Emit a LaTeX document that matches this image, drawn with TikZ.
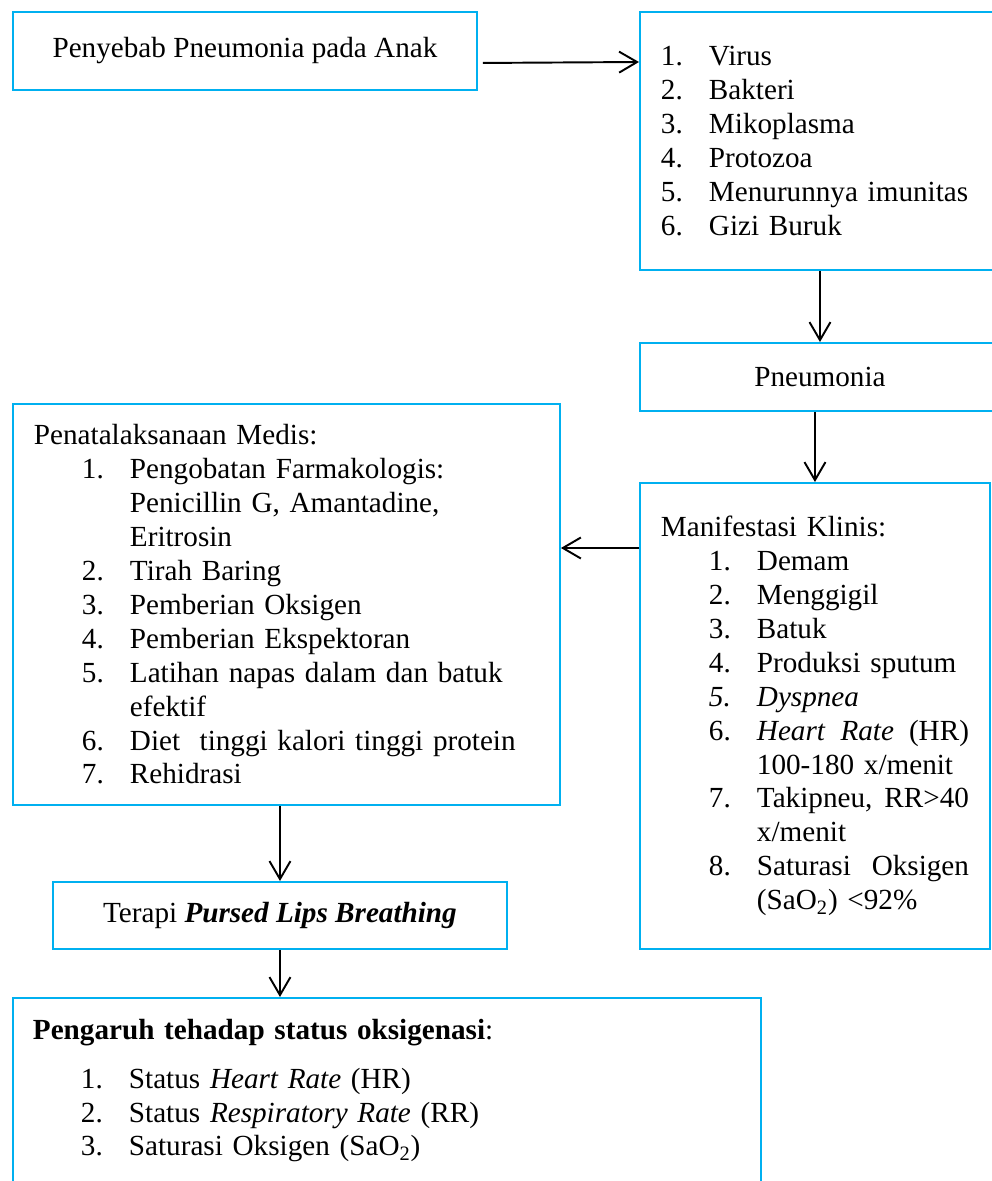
\documentclass[tikz,border=0pt]{standalone}
\usepackage{fontspec}
\setmainfont{Liberation Serif}
\usetikzlibrary{arrows.meta}
\definecolor{biru}{HTML}{00B0F0}
\newcommand{\nomor}[1]{\makebox[0.96cm][l]{#1}}
\newcommand{\tabs}{\hspace*{0.96cm}}

\begin{document}
\begin{tikzpicture}[>={Straight Barb[length=0.36cm,width=0.42cm]}, line width=1.1pt,
  every node/.style={font=\fontsize{16.6}{19.3}\selectfont},
  kotak/.style={draw=biru, rectangle, anchor=north west, inner xsep=0.42cm},
  daftar/.style={kotak, align=left}]
\useasboundingbox (0,0) rectangle (19.84,-23.62);
\clip (0,0) rectangle (19.84,-23.62);
\node[kotak, minimum width=9.28cm, minimum height=1.56cm] (penyebab) at (0.24,-0.22) {Penyebab Pneumonia pada Anak};
\node[daftar, text width=6.36cm, minimum height=5.16cm] (jenis) at (12.78,-0.22) {%
\nomor{1.}Virus\\
\nomor{2.}Bakteri\\
\nomor{3.}Mikoplasma\\
\nomor{4.}Protozoa\\
\nomor{5.}Menurunnya imunitas\\
\nomor{6.}Gizi Buruk};
\node[kotak, minimum width=7.2cm, minimum height=1.36cm] (pneumonia) at (12.78,-6.84) {Pneumonia};
\node[daftar, text width=6.16cm, minimum height=9.32cm] (manifestasi) at (12.78,-9.64) {%
Manifestasi Klinis:\\
\tabs\nomor{1.}Demam\\
\tabs\nomor{2.}Menggigil\\
\tabs\nomor{3.}Batuk\\
\tabs\nomor{4.}Produksi sputum\\
\tabs\nomor{\textit{5.}}\textit{Dyspnea}\\
\tabs\nomor{6.}\textit{Heart}\hfill\textit{Rate}\hfill(HR)\\
\tabs\tabs 100-180 x/menit\\
\tabs\nomor{7.}Takipneu,\hfill RR>40\\
\tabs\tabs x/menit\\
\tabs\nomor{8.}Saturasi\hfill Oksigen\\
\tabs\tabs (SaO\textsubscript{2}) <92\%};
\node[daftar, text width=10.1cm, minimum height=8.02cm] (medis) at (0.24,-8.06) {%
Penatalaksanaan Medis:\\
\tabs\nomor{1.}Pengobatan Farmakologis:\\
\tabs\tabs Penicillin G, Amantadine,\\
\tabs\tabs Eritrosin\\
\tabs\nomor{2.}Tirah Baring\\
\tabs\nomor{3.}Pemberian Oksigen\\
\tabs\nomor{4.}Pemberian Ekspektoran\\
\tabs\nomor{5.}Latihan napas dalam dan batuk\\
\tabs\tabs efektif\\
\tabs\nomor{6.}Diet\ \ tinggi kalori tinggi protein\\
\tabs\nomor{7.}Rehidrasi};
\node[kotak, minimum width=9.08cm, minimum height=1.34cm] (terapi) at (1.04,-17.62) {Terapi \textbf{\textit{Pursed Lips Breathing}}};
\node[daftar, text width=14.16cm, inner xsep=0.4cm, inner ysep=0.42cm] (pengaruh) at (0.24,-19.94) {%
\textbf{Pengaruh tehadap status oksigenasi}:\\[0.3cm]
\tabs\nomor{1.}Status \textit{Heart Rate} (HR)\\
\tabs\nomor{2.}Status \textit{Respiratory Rate} (RR)\\
\tabs\nomor{3.}Saturasi Oksigen (SaO\textsubscript{2})\par\vspace*{4cm}};
\coordinate (kiri) at ([yshift=-1.32cm]manifestasi.north west);
\draw[->] ([xshift=0.1cm,yshift=-0.24cm]penyebab.east) -- ([yshift=-1.02cm]jenis.north west);
\draw[->] (jenis.south) -- (pneumonia.north);
\draw[->] (pneumonia.south -| manifestasi.north) -- (manifestasi.north);
\draw[->] (kiri) -- (kiri -| medis.east);
\draw[->] (terapi.north |- medis.south) -- (terapi.north);
\draw[->] (terapi.south) -- (terapi.south |- pengaruh.north);
\end{tikzpicture}
\end{document}
